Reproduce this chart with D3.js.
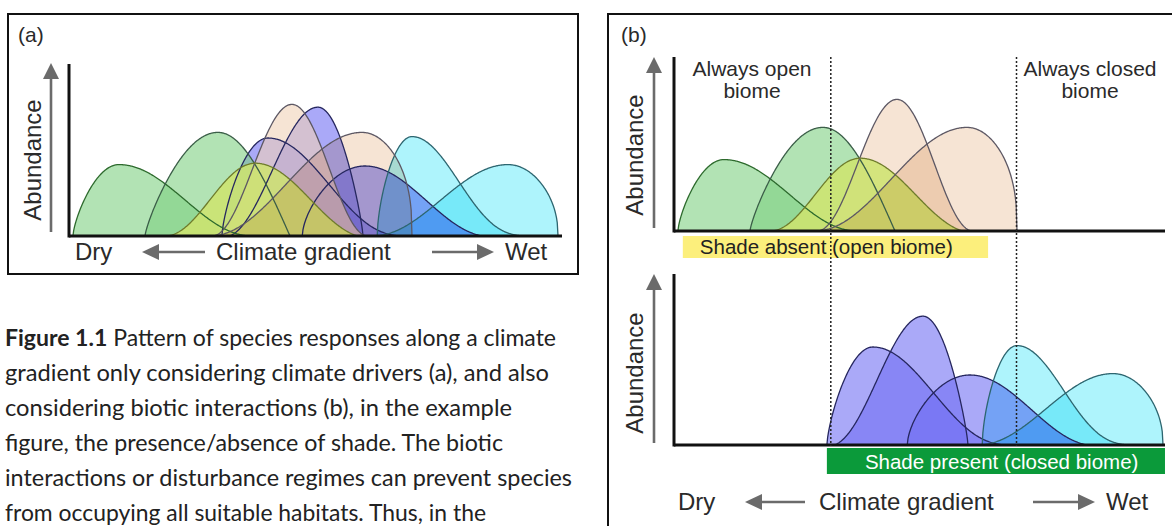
<!DOCTYPE html>
<html><head><meta charset="utf-8">
<script src="https://cdn.jsdelivr.net/npm/d3@7"></script>
<style>
html,body{margin:0;padding:0;background:#fff;}
svg{display:block;}
</style></head><body>
<svg id="fig" width="1172" height="526"></svg>
<script>
// Species response curves along a dry (0) to wet (100) climate gradient.
const species       = ["Sp1","Sp2","Sp3","Sp4","Sp5","Sp6","Sp7","Sp8","Sp9","Sp10"];
const nicheStart    = [0.8, 15.5, 19.6, 29.2, 28.8, 31.2, 32.7, 47.6, 62.9, 62.0];
const nicheOptimum  = [10.2, 30.4, 38.0, 45.5, 59.8, 40.6, 50.8, 60.4, 70.0, 89.6];
const nicheEnd      = [37.3, 45.1, 58.8, 61.0, 70.0, 68.6, 60.0, 84.3, 94.5, 99.8];
const peakAbundance = [51, 74, 52, 94, 74, 70, 92, 50, 71, 51];
// curvature of each flank: [bell blend 0..1, exponent]
const riseShape = [[0,0.7],[0,0.8],[1,1],[1,1],[1,1],[0,0.7],[0.85,1],[0,0.6],[0,0.6],[1,1]];
const fallShape = [[1,1],[0,1],[0.7,1],[1,1],[0,0.38],[1,1.2],[0,0.8],[0.8,1],[1,1.5],[0,0.45]];
const speciesGroup = ["green","green","yellow","peach","peach","violet","violet","violet","cyan","cyan"];
const shadeTolerant = [false,false,false,false,false,true,true,true,true,true];

// biome limits and shade bands on the gradient
const openBiomeLimit = 32.0;
const closedBiomeLimit = 69.9;
const shadeAbsentRange = [1.8, 64.1];
const shadePresentRange = [31.2, 100.2];

// text
const gradientLabels = ["Dry", "Climate gradient", "Wet"];
const yAxisLabel = "Abundance";
const biomeLabels = [["Always open", "biome"], ["Always closed", "biome"]];
const shadeLabels = ["Shade absent (open biome)", "Shade present (closed biome)"];
const captionLines = [
  ["Figure 1.1", " Pattern of species responses along a climate"],
  ["", "gradient only considering climate drivers (a), and also"],
  ["", "considering biotic interactions (b), in the example"],
  ["", "figure, the presence/absence of shade. The biotic"],
  ["", "interactions or disturbance regimes can prevent species"],
  ["", "from occupying all suitable habitats. Thus, in the"]
];

// painting style of each species: fill, opacity, blend, outline
const paint = [
  {fill:"#7fd082", op:0.6,  blend:"normal",   stroke:"#2d6a2d"},
  {fill:"#7fd082", op:0.6,  blend:"normal",   stroke:"#3b5e48"},
  {fill:"#cfe46f", op:0.85, blend:"normal",   stroke:"#6f7c2c"},
  {fill:"#f0d2b7", op:0.6,  blend:"normal",   stroke:"#5d5864"},
  {fill:"#f6e4d4", op:1,    blend:"multiply", stroke:"#5d5864"},
  {fill:"#7270f3", op:0.6,  blend:"normal",   stroke:"#26275f"},
  {fill:"#7270f3", op:0.6,  blend:"normal",   stroke:"#26275f"},
  {fill:"#7270f3", op:0.6,  blend:"normal",   stroke:"#26275f"},
  {fill:"#aef4fc", op:1,    blend:"multiply", stroke:"#2d6670"},
  {fill:"#aef4fc", op:1,    blend:"multiply", stroke:"#2d6670"}
];
// stacking order: shade-tolerant species at the back
const paintOrder = [5, 6, 7, 8, 9, 0, 1, 3, 2, 4];

const FONT = "'Liberation Sans', Arial, sans-serif";
const GREY = "#6b6b6b";

const svg = d3.select("#fig");

function profile(t, s) {
  t = Math.max(0, Math.min(1, t));
  const k = s[0], p = s[1];
  const v = (1 - k) * Math.sin(Math.PI * t / 2) + k * (1 - Math.cos(Math.PI * t)) / 2;
  return Math.pow(v, p);
}
function abundanceAt(i, u) {
  if (u <= nicheStart[i] || u >= nicheEnd[i]) return 0;
  if (u <= nicheOptimum[i])
    return peakAbundance[i] * profile((u - nicheStart[i]) / (nicheOptimum[i] - nicheStart[i]), riseShape[i]);
  return peakAbundance[i] * profile((nicheEnd[i] - u) / (nicheEnd[i] - nicheOptimum[i]), fallShape[i]);
}
function samples(i) {
  const n = 240;
  return d3.range(n + 1).map(j => {
    const u = nicheStart[i] + (nicheEnd[i] - nicheStart[i]) * j / n;
    return [u, abundanceAt(i, u)];
  });
}

function arrow(g, x1, y1, x2, y2, head, half) {
  const ang = Math.atan2(y2 - y1, x2 - x1);
  const bx = x2 - head * Math.cos(ang), by = y2 - head * Math.sin(ang);
  g.append("line").attr("x1", x1).attr("y1", y1).attr("x2", bx).attr("y2", by)
    .attr("stroke", GREY).attr("stroke-width", 2.6);
  const px = -Math.sin(ang) * half, py = Math.cos(ang) * half;
  g.append("path").attr("d", `M${x2},${y2}L${bx + px},${by + py}L${bx - px},${by - py}Z`).attr("fill", GREY);
}

function drawPlot(cfg) {
  const g = svg.append("g");
  const x = d3.scaleLinear().domain([0, 100]).range([cfg.axisX, cfg.axisX + 490]);
  const y = d3.scaleLinear().domain([0, 100]).range([cfg.baseline, cfg.baseline - 140]);
  const area = d3.area().x(d => x(d[0])).y0(y(0)).y1(d => y(d[1]));
  const line = d3.line().x(d => x(d[0])).y(d => y(d[1]));
  const layer = g.append("g").style("isolation", "isolate");
  const members = paintOrder.filter(i => cfg.members.includes(i));
  members.forEach(i => {
    layer.append("path").datum(samples(i)).attr("d", area)
      .attr("fill", paint[i].fill).attr("fill-opacity", paint[i].op)
      .style("mix-blend-mode", paint[i].blend);
  });
  members.forEach(i => {
    layer.append("path").datum(samples(i)).attr("d", line)
      .attr("fill", "none").attr("stroke", paint[i].stroke).attr("stroke-width", 1.3)
      .attr("stroke-linejoin", "round");
  });
  // axes
  g.append("line").attr("x1", cfg.axisX).attr("x2", cfg.axisX).attr("y1", cfg.yTop).attr("y2", cfg.baseline + 1.5)
    .attr("stroke", "#111").attr("stroke-width", 3);
  g.append("line").attr("x1", cfg.axisX).attr("x2", cfg.xEnd).attr("y1", cfg.baseline).attr("y2", cfg.baseline)
    .attr("stroke", "#111").attr("stroke-width", 3);
  // y arrow and label
  arrow(g, cfg.arrowX, cfg.arrowBottom, cfg.arrowX, cfg.arrowTop, 16, 8);
  g.append("text").attr("transform", `translate(${cfg.labelX},${cfg.labelY}) rotate(-90)`)
    .attr("text-anchor", "middle").attr("font-family", FONT).attr("font-size", 24).attr("fill", "#2a2a2a")
    .text(yAxisLabel);
  return {g, x, y};
}

function gradientRow(xs, arrows, baseY) {
  const g = svg.append("g").attr("font-family", FONT).attr("font-size", 24).attr("fill", "#2a2a2a");
  gradientLabels.forEach((t, k) => g.append("text").attr("x", xs[k]).attr("y", baseY).text(t));
  const ay = baseY - 8;
  arrow(g, arrows[0][1], ay, arrows[0][0], ay, 17, 8);
  arrow(g, arrows[1][0], ay, arrows[1][1], ay, 17, 8);
}

// ---------- panel (a) ----------
svg.append("rect").attr("x", 8).attr("y", 14).attr("width", 570).attr("height", 260)
  .attr("fill", "none").attr("stroke", "#111").attr("stroke-width", 2);
svg.append("text").attr("x", 18).attr("y", 42).attr("font-family", FONT).attr("font-size", 21)
  .attr("fill", "#2a2a2a").text("(a)");
drawPlot({axisX: 69, baseline: 236, yTop: 64, xEnd: 562, members: d3.range(species.length),
  arrowX: 51, arrowTop: 63, arrowBottom: 232, labelX: 41, labelY: 160});
gradientRow([75, 216, 505], [[142, 205], [432, 494]], 260);

// ---------- panel (b) ----------
svg.append("path").attr("d", "M608,527V14H1173").attr("fill", "none").attr("stroke", "#111").attr("stroke-width", 2);
svg.append("text").attr("x", 621).attr("y", 42).attr("font-family", FONT).attr("font-size", 21)
  .attr("fill", "#2a2a2a").text("(b)");

const openIdx = species.map((s, i) => i).filter(i => !shadeTolerant[i]);
const closedIdx = species.map((s, i) => i).filter(i => shadeTolerant[i]);

const topPlot = drawPlot({axisX: 674, baseline: 231, yTop: 57, xEnd: 1165, members: openIdx,
  arrowX: 654, arrowTop: 57, arrowBottom: 228, labelX: 643, labelY: 155});
drawPlot({axisX: 674, baseline: 445, yTop: 274, xEnd: 1165, members: closedIdx,
  arrowX: 654, arrowTop: 274, arrowBottom: 443, labelX: 643, labelY: 373});

// shade bands
const xb = topPlot.x;
svg.append("rect").attr("x", xb(shadeAbsentRange[0])).attr("y", 236)
  .attr("width", xb(shadeAbsentRange[1]) - xb(shadeAbsentRange[0])).attr("height", 22).attr("fill", "#fcef7c");
svg.append("text").attr("x", xb(shadeAbsentRange[0]) + 17).attr("y", 253.5).attr("font-family", FONT)
  .attr("font-size", 20.5).attr("fill", "#222").text(shadeLabels[0]);
svg.append("rect").attr("x", xb(shadePresentRange[0])).attr("y", 448)
  .attr("width", xb(shadePresentRange[1]) - xb(shadePresentRange[0])).attr("height", 26).attr("fill", "#0b9a3a");
svg.append("text").attr("x", xb(shadePresentRange[0]) + 38).attr("y", 468.5).attr("font-family", FONT)
  .attr("font-size", 20.5).attr("fill", "#fff").text(shadeLabels[1]);

// biome limits
[openBiomeLimit, closedBiomeLimit].forEach(v => {
  svg.append("line").attr("x1", xb(v)).attr("x2", xb(v)).attr("y1", 57).attr("y2", 446)
    .attr("stroke", "#222").attr("stroke-width", 1.5).attr("stroke-dasharray", "2,2");
});

// biome labels
[[752, biomeLabels[0]], [1090, biomeLabels[1]]].forEach(([cx, lines]) => {
  lines.forEach((t, k) => svg.append("text").attr("x", cx).attr("y", 76 + 22 * k)
    .attr("text-anchor", "middle").attr("font-family", FONT).attr("font-size", 21)
    .attr("fill", "#2a2a2a").text(t));
});

gradientRow([678, 819, 1106], [[745, 805], [1033, 1095]], 510);

// ---------- caption ----------
const captionRight = [556, 549, 512, 503, 572, 486];
captionLines.forEach((ln, k) => {
  const t = svg.append("text").attr("x", 5).attr("y", 346 + 35 * k)
    .attr("font-family", "Lato, 'Open Sans', sans-serif").attr("font-size", 23).attr("fill", "#222")
    .attr("textLength", captionRight[k] - 5).attr("lengthAdjust", "spacingAndGlyphs");
  if (ln[0]) t.append("tspan").attr("font-weight", 700).text(ln[0]);
  t.append("tspan").text(ln[1]);
});
</script>
</body></html>
